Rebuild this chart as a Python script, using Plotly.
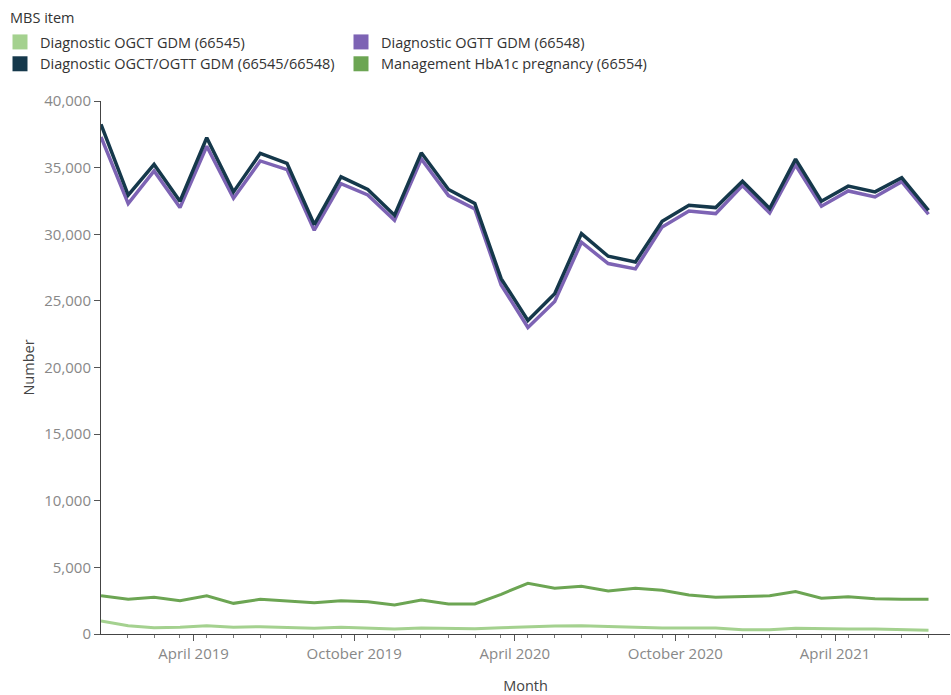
import plotly.graph_objects as go

months = [
    "2018-12", "2019-01", "2019-02", "2019-03", "2019-04", "2019-05", "2019-06", "2019-07",
    "2019-08", "2019-09", "2019-10", "2019-11", "2019-12", "2020-01", "2020-02", "2020-03",
    "2020-04", "2020-05", "2020-06", "2020-07", "2020-08", "2020-09", "2020-10", "2020-11",
    "2020-12", "2021-01", "2021-02", "2021-03", "2021-04", "2021-05", "2021-06", "2021-07",
]

ogct_66545 = [975, 625, 475, 500, 625, 500, 550, 475, 425, 500, 425, 375, 450, 450, 400, 475,
              550, 600, 625, 550, 500, 450, 450, 450, 325, 325, 425, 375, 375, 375, 300, 275]

ogtt_66548 = [37300, 32300, 34750, 32000, 36600, 32700, 35500, 34850, 30300, 33800, 32950, 31050,
              35650, 32900, 31900, 26200, 23000, 24950, 29400, 27800, 27400, 30550, 31750, 31550,
              33650, 31600, 35200, 32100, 33250, 32800, 33950, 31500]

ogct_ogtt_combined = [38250, 32930, 35240, 32480, 37240, 33180, 36070, 35320, 30730, 34310, 33360, 31430,
                      36110, 33360, 32310, 26670, 23530, 25540, 30050, 28350, 27920, 30980, 32180, 32000,
                      33980, 31930, 35640, 32480, 33610, 33180, 34240, 31800]

hba1c_66554 = [2870, 2600, 2750, 2500, 2870, 2300, 2600, 2475, 2350, 2500, 2425, 2175,
               2550, 2250, 2250, 2980, 3800, 3430, 3580, 3230, 3430, 3280, 2930, 2750,
               2800, 2870, 3180, 2680, 2800, 2650, 2600, 2600]

series = [
    ("Diagnostic OGCT GDM (66545)", ogct_66545, "#a4d18f", 3),
    ("Diagnostic OGTT GDM (66548)", ogtt_66548, "#7d63b4", 3.5),
    ("Diagnostic OGCT/OGTT GDM (66545/66548)", ogct_ogtt_combined, "#15384b", 3.5),
    ("Management HbA1c pregnancy (66554)", hba1c_66554, "#6ca553", 3),
]

FONT = "Open Sans"
W, H = 951, 695
T, B = 101, 61
fig = go.Figure()
for name, vals, color, w in series:
    fig.add_trace(go.Scatter(
        x=months, y=vals, name=name, mode="lines",
        xperiod="M1", xperiodalignment="middle",
        line=dict(color=color, width=w), legendgroup=name, showlegend=False,
        hovertemplate="%{x|%B %Y}: %{y:,}<extra>" + name + "</extra>",
    ))
for i, (name, vals, color, w) in enumerate(series):
    fig.add_trace(go.Scatter(
        x=[None], y=[None], name=name, mode="markers",
        marker=dict(symbol="square", size=15, color=color),
        legendgroup=name, showlegend=True, legendrank=i,
    ))

fig.add_annotation(
    text="MBS item", xref="paper", yref="paper",
    x=-101 / (W - 102), y=1 + (T - 17) / (H - T - B),
    xanchor="left", yanchor="middle", xshift=8, showarrow=False,
    font=dict(size=14.5, color="#333", family=FONT),
)

fig.update_layout(
    width=W, height=H,
    margin=dict(l=101, r=1, t=T, b=B),
    paper_bgcolor="white", plot_bgcolor="white",
    font=dict(family=FONT, size=14.5, color="#555"),
    legend=dict(
        orientation="h", xref="container", yref="container",
        x=-0.006, y=1 - 26 / H, xanchor="left", yanchor="top",
        entrywidth=296, entrywidthmode="pixels",
        font=dict(size=14.5, color="#333"),
        tracegroupgap=0,
    ),
    xaxis=dict(
        type="date", automargin=False,
        range=["2018-12-16 12:00", "2021-08-10"],
        tick0="2019-04-01", dtick="M6", tickformat="%B %Y",
        ticks="outside", ticklen=6, tickcolor="#555",
        showline=True, linecolor="#444", linewidth=1,
        showgrid=False, zeroline=False,
        tickfont=dict(size=15, color="#888"),
        minor=dict(tick0="2018-12-16", dtick="M1", ticks="outside", ticklen=3, tickcolor="#777", showgrid=False),
        title=dict(text="Month", font=dict(size=14.5, color="#444"), standoff=20),
    ),
    yaxis=dict(
        range=[0, 40000], dtick=5000, tickformat=",",
        ticks="outside", ticklen=6, tickcolor="#555",
        showline=True, linecolor="#444", linewidth=1,
        showgrid=False, zeroline=False,
        tickfont=dict(size=15, color="#888"),
        title=dict(text="Number", font=dict(size=14.5, color="#444"), standoff=6),
    ),
)

fig.write_html("out.html", config={"displayModeBar": False},
               post_script="document.body.style.margin='0';")
